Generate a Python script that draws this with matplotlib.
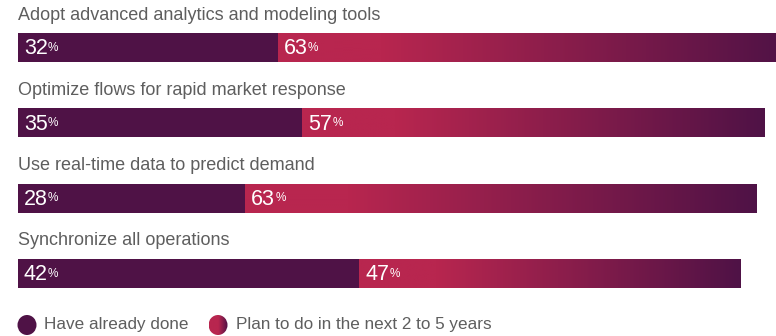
import numpy as np
import matplotlib
matplotlib.use("Agg")
import matplotlib.pyplot as plt
from matplotlib.colors import LinearSegmentedColormap
from matplotlib.patches import Rectangle, Ellipse

# survey answers, in percent
actions = [
    "Adopt advanced analytics and modeling tools",
    "Optimize flows for rapid market response",
    "Use real-time data to predict demand",
    "Synchronize all operations",
]
already_done = [32, 35, 28, 42]
plan_next_years = [63, 57, 63, 47]
legend_labels = ["Have already done", "Plan to do in the next 2 to 5 years"]

DARK = "#4f1246"
PINK = "#b8264f"
TEXT = "#5e5e5e"

plan_cmap = LinearSegmentedColormap.from_list(
    "plan", [(0, PINK), (0.2, PINK), (1, DARK)])

W, H = 776, 336
fig = plt.figure(figsize=(W / 100, H / 100), dpi=100)
ax = fig.add_axes([0, 0, 1, 1])
ax.axis("off")

px_per_pct = 8.12
x0 = 18
xmin = -x0 / px_per_pct
xmax = (W - x0) / px_per_pct

row_top = 33
row_gap = 75.3
bar_h = 29

plt.rcParams["font.family"] = ["Liberation Sans", "DejaVu Sans"]

for i, (name, done, plan) in enumerate(zip(actions, already_done, plan_next_years)):
    top = row_top + i * row_gap
    bottom = top + bar_h
    mid = top + bar_h / 2

    ax.text(0, top - 9.5, name, fontsize=13, color=TEXT, va="bottom", ha="left")

    ax.add_patch(Rectangle((0, top), done, bar_h, facecolor=DARK, edgecolor="none"))
    grad = np.linspace(0, 1, 256).reshape(1, -1)
    ax.imshow(grad, cmap=plan_cmap, aspect="auto", interpolation="bilinear",
              extent=(done, done + plan, bottom, top))

    for start, val in ((0, done), (done, plan)):
        t = ax.annotate(f"{val}", (start, mid), xytext=(4.3, -1), textcoords="offset points",
                        fontsize=15.5, color="white", va="center", ha="left")
        ax.annotate("%", (1, 1), xycoords=t, xytext=(0.1, -2.5), textcoords="offset points",
                    fontsize=8.5, color="white", va="top", ha="left")

# legend
leg_y = 325
rx = 9.5 / px_per_pct
ry = 10
dot_x = [27, 218]
for k, (cx_px, label) in enumerate(zip(dot_x, legend_labels)):
    cx = (cx_px - x0) / px_per_pct
    if k == 0:
        ax.add_patch(Ellipse((cx, leg_y), 2 * rx, 2 * ry, facecolor=DARK, edgecolor="none"))
    else:
        clip = Ellipse((cx, leg_y), 2 * rx, 2 * ry, facecolor="none", edgecolor="none")
        ax.add_patch(clip)
        img = ax.imshow(np.linspace(0, 1, 64).reshape(1, -1),
                        cmap=LinearSegmentedColormap.from_list("dot", [PINK, PINK, DARK]),
                        aspect="auto", interpolation="bilinear",
                        extent=(cx - rx, cx + rx, leg_y + ry, leg_y - ry))
        img.set_clip_path(clip)
    ax.text(cx + rx + 8 / px_per_pct, leg_y, label, fontsize=12.3, color=TEXT,
            va="center", ha="left")

ax.set_xlim(xmin, xmax)
ax.set_ylim(H, 0)

fig.savefig("out.png", dpi=100, facecolor="white")
